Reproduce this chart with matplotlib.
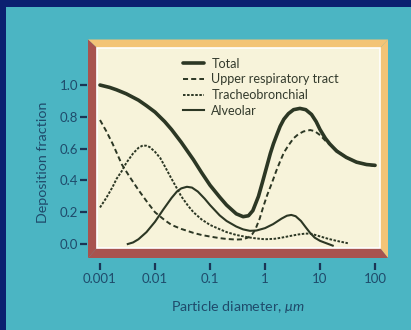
import matplotlib
matplotlib.use("Agg")
import matplotlib.pyplot as plt
from matplotlib.patches import Polygon, Rectangle

# Deposition fraction vs particle diameter (um)
total_d = [0.001, 0.0015, 0.002, 0.003, 0.005, 0.007, 0.01, 0.015, 0.02, 0.03, 0.05,
           0.07, 0.1, 0.15, 0.2, 0.3, 0.4, 0.5, 0.6, 0.76, 0.9, 1.08, 1.25, 1.42,
           1.65, 1.88, 2.2, 2.66, 3.3, 4.3, 5.5, 7, 8.5, 10, 12.5, 15, 20, 30, 46,
           70, 100]
total_v = [1.0, 0.985, 0.97, 0.945, 0.905, 0.87, 0.83, 0.77, 0.72, 0.64, 0.53,
           0.45, 0.37, 0.295, 0.245, 0.19, 0.172, 0.178, 0.21, 0.30, 0.39, 0.49,
           0.57, 0.63, 0.69, 0.74, 0.785, 0.82, 0.845, 0.853, 0.845, 0.815, 0.77,
           0.72, 0.665, 0.63, 0.585, 0.545, 0.515, 0.50, 0.495]

upper_d = [0.001, 0.0013, 0.0017, 0.0025, 0.0035, 0.005, 0.007, 0.01, 0.015, 0.02,
           0.03, 0.05, 0.07, 0.1, 0.15, 0.2, 0.3, 0.4, 0.5, 0.58, 0.66, 0.8, 0.93,
           1.1, 1.32, 1.6, 1.88, 2.2, 2.66, 3.3, 4, 5, 6.6, 8, 10, 12.5, 15, 20, 30,
           50, 100]
upper_v = [0.78, 0.71, 0.63, 0.50, 0.42, 0.34, 0.27, 0.20, 0.15, 0.12,
           0.095, 0.07, 0.057, 0.047, 0.037, 0.032, 0.028, 0.03, 0.042, 0.06, 0.088,
           0.16, 0.235, 0.31, 0.38, 0.46, 0.52, 0.575, 0.62, 0.665, 0.69, 0.708,
           0.717, 0.71, 0.685, 0.65, 0.625, 0.59, 0.545, 0.51, 0.49]

trach_d = [0.001, 0.0013, 0.0017, 0.002, 0.0025, 0.003, 0.004, 0.005, 0.006, 0.007,
           0.008, 0.01, 0.0125, 0.015, 0.02, 0.025, 0.03, 0.04, 0.05, 0.07, 0.1,
           0.15, 0.2, 0.3, 0.5, 0.7, 1, 1.5, 2, 3, 4, 5.5, 7, 10, 14, 20, 32]
trach_v = [0.23, 0.29, 0.36, 0.41, 0.46, 0.51, 0.57, 0.605, 0.62, 0.618,
           0.61, 0.58, 0.54, 0.49, 0.41, 0.35, 0.30, 0.24, 0.20, 0.155, 0.12,
           0.093, 0.075, 0.057, 0.042, 0.035, 0.03, 0.033, 0.04, 0.052, 0.06, 0.066,
           0.064, 0.048, 0.033, 0.02, 0.005]

alv_d = [0.0032, 0.004, 0.005, 0.007, 0.01, 0.014, 0.02, 0.025, 0.03, 0.038, 0.047,
         0.06, 0.08, 0.1, 0.15, 0.2, 0.3, 0.4, 0.53, 0.7, 1, 1.4, 2, 2.5, 3, 3.6,
         4.5, 5.5, 6.6, 8, 10, 13, 17]
alv_v = [0.0, 0.01, 0.03, 0.075, 0.14, 0.215, 0.29, 0.33, 0.35, 0.36, 0.355,
         0.33, 0.285, 0.245, 0.18, 0.145, 0.11, 0.092, 0.083, 0.085, 0.10, 0.125,
         0.16, 0.178, 0.183, 0.175, 0.145, 0.105, 0.07, 0.04, 0.02, 0.005, -0.01]

x_ticks = [0.001, 0.01, 0.1, 1, 10, 100]
x_labels = ["0.001", "0.01", "0.1", "1", "10", "100"]
y_ticks = [0.0, 0.2, 0.4, 0.6, 0.8, 1.0]

navy = "#0b2170"
teal = "#4bb5c3"
cream = "#f7f3da"
orange = "#f3c477"
brick = "#a8534f"
ink = "#2c3724"
label_col = "#1f4b6b"

plt.rcParams["font.family"] = ["Lato", "DejaVu Sans"]
plt.rcParams["mathtext.fontset"] = "custom"
plt.rcParams["mathtext.it"] = "Lato:italic"
plt.rcParams["mathtext.rm"] = "Lato"

W, H = 411, 330
fig = plt.figure(figsize=(W / 100, H / 100), dpi=100, facecolor=navy)


def fx(px):
    return px / W


def fy(py):
    return 1 - py / H


# teal panel inside the navy border
fig.patches.append(Rectangle((fx(6), 0), 1, fy(7), transform=fig.transFigure,
                             facecolor=teal, edgecolor="none", zorder=0))

# bevelled picture frame
oL, oT, oR, oB = 88, 39.5, 388, 258
iL, iT, iR, iB = 97, 48, 380, 248
bands = [
    ([(oL, oT), (oR, oT), (iR, iT), (iL, iT)], orange),
    ([(oR, oT), (oR, oB), (iR, iB), (iR, iT)], orange),
    ([(oL, oT), (iL, iT), (iL, iB), (oL, oB)], brick),
    ([(oL, oB), (iL, iB), (iR, iB), (oR, oB)], brick),
]
for pts, col in bands:
    fig.patches.append(Polygon([(fx(a), fy(b)) for a, b in pts], closed=True,
                               transform=fig.transFigure, facecolor=col,
                               edgecolor="none", zorder=1))

ax = fig.add_axes([fx(iL), fy(iB), fx(iR) - fx(iL), fy(iT) - fy(iB)])
ax.set_facecolor(cream)
ax.set_zorder(2)

ax.plot(total_d, total_v, color=ink, lw=2.6, label="Total",
        solid_capstyle="round", solid_joinstyle="round")
ax.plot(upper_d, upper_v, color=ink, lw=1.4, linestyle=(0, (2.6, 1.6)),
        label="Upper respiratory tract")
ax.plot(trach_d, trach_v, color=ink, lw=1.4, linestyle=(0, (1.3, 0.8)),
        label="Tracheobronchial")
ax.plot(alv_d, alv_v, color=ink, lw=1.5, label="Alveolar",
        solid_joinstyle="round")

ax.set_xscale("log")
ax.set_xlim(0.000882, 123)
ax.set_ylim(-0.025, 1.233)
ax.set_xticks(x_ticks)
ax.set_xticklabels(x_labels)
ax.minorticks_off()
ax.set_yticks(y_ticks)
ax.set_yticklabels([f"{v:.1f}" for v in y_ticks])

for side in ["top", "right", "left", "bottom"]:
    ax.spines[side].set_color("none")
ax.spines["left"].set_position(("outward", 7.2))
ax.spines["bottom"].set_position(("outward", 10.8))
ax.tick_params(axis="y", length=5, width=1.6, color="#1b3555", pad=1.5,
               labelsize=9.5, labelcolor=label_col)
ax.tick_params(axis="x", length=5, width=1.6, color="#1b3555", pad=2.5,
               labelsize=9.5, labelcolor=label_col)

# thin white rim round the cream panel
ax.add_patch(Rectangle((0, 0), 1, 1, transform=ax.transAxes, fill=False,
                       edgecolor="white", lw=1.2, clip_on=False))

ax.legend(loc="upper left", bbox_to_anchor=(fx(183), fy(57.5)),
          bbox_transform=fig.transFigure, frameon=False, fontsize=9.1,
          handlelength=1.7, handletextpad=0.55, labelspacing=0.3,
          borderpad=0, borderaxespad=0, labelcolor="#343b2d")

fig.text(fx(43), fy(162), "Deposition fraction", rotation=90, ha="center",
         va="center", fontsize=10.3, color=label_col)
fig.text(fx(238), fy(307), r"Particle diameter, $\mu m$", ha="center",
         va="center", fontsize=10.3, color=label_col)

fig.savefig("out.png", dpi=100, facecolor=navy)
